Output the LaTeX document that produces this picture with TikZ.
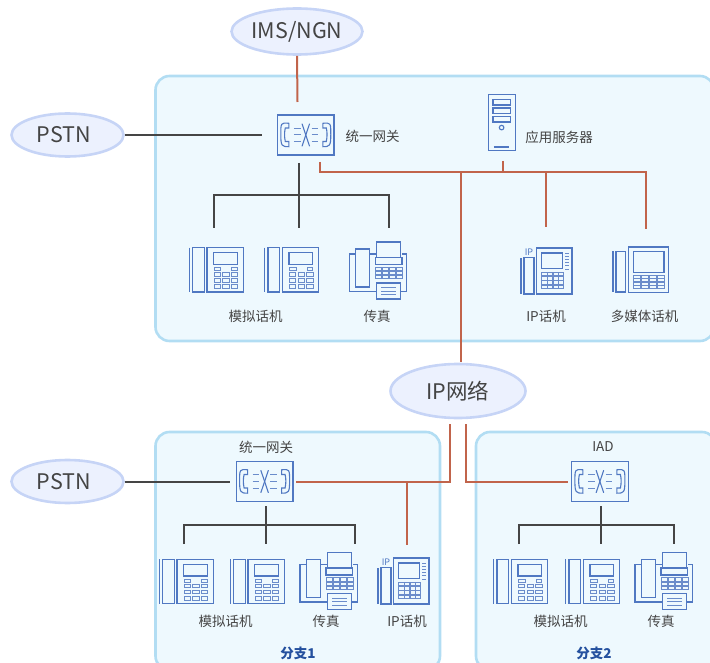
\documentclass[tikz,border=0pt]{standalone}
\usepackage{fontspec}
\setmainfont{Noto Sans CJK SC}
\usetikzlibrary{shapes.geometric}
\definecolor{panelfill}{HTML}{EEF9FE}
\definecolor{panelline}{HTML}{B2DDF3}
\definecolor{ellfill}{HTML}{ECF1FE}
\definecolor{ellline}{HTML}{C6D4F6}
\definecolor{iconblue}{HTML}{5078C2}
\definecolor{redline}{HTML}{C1644B}
\definecolor{darkline}{HTML}{454545}
\definecolor{txt}{HTML}{444444}
\definecolor{branchblue}{HTML}{25519F}
\tikzset{
  panel/.style={draw=panelline,fill=panelfill,line width=2.6pt,rounded corners=14pt},
  cloud/.style={ellipse,draw=ellline,fill=ellfill,line width=2.6pt,inner sep=0pt,text=txt,font=\fontsize{21.5}{24}\selectfont},
  lab/.style={text=txt,font=\fontsize{13.5}{15}\selectfont,inner sep=0pt},
  branchlab/.style={text=branchblue,font=\fontsize{13.5}{15}\selectfont\bfseries,inner sep=0pt},
  gwbox/.style={rectangle,draw=iconblue,line width=1.3pt,minimum width=56.5pt,minimum height=40pt,inner sep=0pt},
  ic/.style={draw=iconblue,line width=1.1pt},
  icthin/.style={draw=iconblue!85,line width=0.7pt},
  red/.style={draw=redline,line width=2pt},
  dark/.style={draw=darkline,line width=2pt},
  pics/analogphone/.style={code={
    \draw[ic] (0,0) -- (0,44.3);
    \draw[ic] (3.3,0) rectangle (15,44.3);
    \draw[ic] (17.7,0) rectangle (54,44.3);
    \draw[ic] (24.3,5) rectangle (48,16.7);
    \draw[icthin] (25,20) rectangle (31.3,22.7);
    \draw[icthin] (42.3,20) rectangle (48,22.7);
    \foreach \kx in {24.7,33.3,42}{\foreach \ky in {24.7,30.7,37}{
      \draw[icthin] (\kx,\ky) rectangle ++(6.4,3.7);}}
  }},
  pics/faxmachine/.style={code={
    \draw[ic] (6.3,12) -- (0,12) -- (0,49.3) -- (27.3,49.3);
    \draw[ic] (51.3,49.3) -- (57.3,49.3) -- (57.3,12) -- (52.7,12);
    \draw[ic] (20.3,12) -- (27,12);
    \draw[ic] (6.3,7) rectangle (20.3,45);
    \draw[ic] (27.3,0) rectangle (51.3,15.3);
    \draw[ic] (26,15.3) rectangle (52.7,22.3);
    \foreach \kx in {26,33,40,47}{\foreach \ky in {25,29.2,33.4}{
      \draw[icthin] (\kx,\ky) rectangle ++(6,3.4);}}
    \draw[ic,fill=panelfill] (27.3,41) rectangle (51.3,57);
    \foreach \ky in {45.5,49,52.5}{\draw[icthin] (32,\ky) -- (46.5,\ky);}
  }},
  pics/ipphone/.style={code={
    \draw[ic] (0,10) -- (0,46);
    \draw[ic] (3,9.3) rectangle (13,46);
    \draw[ic] (15.3,0) rectangle (51,46);
    \draw[ic] (20.7,5) rectangle (41.7,20.7);
    \foreach \ky in {5,8.2,11.4,14.6,17.8,21}{\draw[icthin] (44,\ky) -- (48.3,\ky);}
    \foreach \kx in {20.7,26.3,31.9,37.5}{\foreach \ky in {24,28.3,32.6,36.9}{
      \draw[icthin] (\kx,\ky) rectangle ++(5.2,3.7);}}
    \node[text=iconblue,font=\fontsize{9}{10}\selectfont,inner sep=0pt] at (8,4.5) {IP};
  }},
  pics/mediaphone/.style={code={
    \draw[ic] (0,4.3) -- (0,45);
    \draw[ic] (3,4.3) rectangle (12.7,45);
    \draw[ic] (15.3,0) rectangle (55.3,45.7);
    \draw[ic] (20.7,4.3) rectangle (51,25.3);
    \foreach \kx in {20.7,28.5,36.3,44.1}{\foreach \ky in {28.3,31.8,35.3,38.8}{
      \draw[icthin] (\kx,\ky) rectangle ++(6.9,2.9);}}
  }},
  pics/serverbox/.style={code={
    \draw[ic] (0,0) rectangle (27,56);
    \draw[ic] (4.7,5) rectangle (22.3,10.7);
    \draw[ic] (4.7,13.7) rectangle (22.3,19.3);
    \draw[ic] (4.7,22) rectangle (22.3,27.7);
    \draw[ic] (13.3,33.3) circle (2.3);
    \draw[ic] (5.5,52.7) -- (21,52.7);
  }},
  pics/gwsymbol/.style={code={
    \draw[ic] (-17,-11.7) .. controls (-25,-12.5) and (-25,-12) .. (-25,-0.5) .. controls (-25,11) and (-24,11.7) .. (-17,11.7)
       -- (-17,6.5) -- (-20.5,6.5) .. controls (-21.5,2) and (-21.5,-3) .. (-20.5,-7) -- (-17,-7) -- cycle;
    \draw[ic] (17,-11.7) .. controls (25,-12.5) and (25,-12) .. (25,-0.5) .. controls (25,11) and (24,11.7) .. (17,11.7)
       -- (17,6.5) -- (20.5,6.5) .. controls (21.5,2) and (21.5,-3) .. (20.5,-7) -- (17,-7) -- cycle;
    \foreach \ky in {-6.7,0,6.7}{
      \draw[icthin,line width=1pt] (-12,\ky) -- (-5.3,\ky);
      \draw[icthin,line width=1pt] (5.7,\ky) -- (12.4,\ky);}
    \draw[ic] (-3.8,-11.3) -- (3.8,11.3);
    \draw[ic] (3.8,-11.3) -- (-3.8,11.3);
  }},
}
\begin{document}
\begin{tikzpicture}[x=1pt,y=-1pt]
\useasboundingbox (0,0) rectangle (710,663);
\clip (0,0) rectangle (710,663);
% panels
\draw[panel] (155.5,76) rectangle (714,341);
\draw[panel] (155.5,432) rectangle (440,670);
\draw[panel] (476,432) rectangle (716,670);
% clouds
\node[cloud,minimum width=131pt,minimum height=46pt] (ims) at (297,31.5) {IMS/NGN};
\node[cloud,minimum width=112pt,minimum height=43pt] (pstnA) at (67.5,135) {PSTN\hspace*{7pt}};
\node[cloud,minimum width=112pt,minimum height=43pt] (pstnB) at (67.5,481.5) {PSTN\hspace*{7pt}};
\node[cloud,minimum width=135pt,minimum height=54pt] (ipnet) at (458,391) {IP网络};
% gateways
\node[gwbox] (gwA) at (305.8,135) {}; \pic at (gwA.center) {gwsymbol};
\node[gwbox] (gwB) at (264.6,481.5) {}; \pic at (gwB.center) {gwsymbol};
\node[gwbox] (gwC) at (599.9,481.5) {}; \pic at (gwC.center) {gwsymbol};
% icons
\pic at (488.3,94.3) {serverbox};
\node[inner sep=0pt,minimum width=27pt,minimum height=56pt] (srv) at (501.8,122.3) {};
\pic at (189.3,247.7) {analogphone};
\pic at (264.7,247.7) {analogphone};
\pic at (349.3,242) {faxmachine};
\pic at (521,248) {ipphone};
\pic at (613,247) {mediaphone};
\pic at (159.3,559.3) {analogphone};
\pic at (230.3,559.3) {analogphone};
\pic at (300,552.7) {faxmachine};
\pic at (378,558) {ipphone};
\pic at (493.7,559.3) {analogphone};
\pic at (565.7,559.3) {analogphone};
\pic at (635,552.7) {faxmachine};
% labels
\node[lab] (l1) at (372.5,136) {统一网关};
\node[lab] (l2) at (559,137) {应用服务器};
\node[lab] (l3) at (255.5,316) {模拟话机};
\node[lab] (l4) at (377,316) {传真};
\node[lab] (l5) at (546,316) {IP话机};
\node[lab] (l6) at (644.5,316) {多媒体话机};
\node[lab] (l7) at (266,447) {统一网关};
\node[lab] (l8) at (603,447) {IAD};
\node[lab] (l9) at (225.5,621) {模拟话机};
\node[lab] (l10) at (326,621) {传真};
\node[lab] (l11) at (407,621) {IP话机};
\node[lab] (l12) at (560.5,621) {模拟话机};
\node[lab] (l13) at (661,621) {传真};
\node[branchlab] (b1) at (298,653) {分支1};
\node[branchlab] (b2) at (594,653) {分支2};
% connector ends
\coordinate (a1) at (297.5,102);
\coordinate (a2) at (262,135);
\coordinate (a3) at (298.5,163);
\coordinate (a4) at (298.5,195.5);
\coordinate (d1) at (213.5,228);
\coordinate (d2) at (298.5,228);
\coordinate (d3) at (388.5,228);
\coordinate (r1) at (320,162);
\coordinate (r2) at (646,172);
\coordinate (r3) at (646,229);
\coordinate (r4) at (546,172);
\coordinate (r5) at (546,227);
\coordinate (r6) at (502.5,161);
\coordinate (r7) at (502.5,172);
\coordinate (r8) at (461,172);
\coordinate (r9) at (461,361.5);
\coordinate (s1) at (450,424);
\coordinate (s2) at (295.5,481.7);
\coordinate (s3) at (407,481.7);
\coordinate (s4) at (407,545);
\coordinate (t1) at (466,424);
\coordinate (t2) at (568,481.5);
\coordinate (u1) at (230,481.5);
\coordinate (u2) at (265.7,506);
\coordinate (u3) at (265.7,525);
\coordinate (u4) at (183.5,544);
\coordinate (u5) at (265.7,544);
\coordinate (u6) at (355,544);
\coordinate (v1) at (600.5,506);
\coordinate (v2) at (600.5,525.3);
\coordinate (v3) at (518.5,544);
\coordinate (v4) at (600.5,544);
\coordinate (v5) at (673.5,544);
% connectors
\draw[red] (ims.south) -- (a1);
\draw[dark] (pstnA.east) -- (a2);
\draw[dark] (a3) -- (d2);
\draw[dark] (d1) |- (a4) -| (d3);
\draw[red] (r1) |- (r2) -- (r3);
\draw[red] (r4) -- (r5);
\draw[red] (r6) -- (r7);
\draw[red] (r8) -- (r9);
\draw[red] (s1) |- (s2);
\draw[red] (s3) -- (s4);
\draw[red] (t1) |- (t2);
\draw[dark] (pstnB.east) -- (u1);
\draw[dark] (u2) -- (u5);
\draw[dark] (u4) |- (u3) -| (u6);
\draw[dark] (v1) -- (v4);
\draw[dark] (v3) |- (v2) -| (v5);
\end{tikzpicture}
\end{document}
